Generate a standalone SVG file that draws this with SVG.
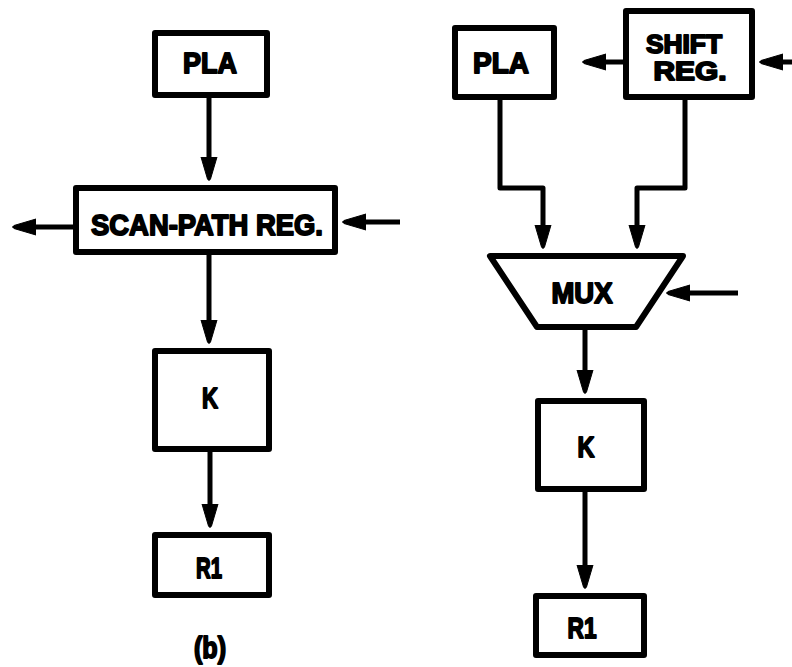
<svg xmlns="http://www.w3.org/2000/svg" width="792" height="667" viewBox="0 0 792 667">
<style>
.box{fill:#fff;stroke:#000;stroke-width:6;stroke-linejoin:round}
.lbl{font-family:"Liberation Sans","DejaVu Sans",sans-serif;font-weight:bold;font-size:29px;fill:#000;stroke:#000;stroke-width:1.8;stroke-linejoin:round;text-anchor:middle}
.sm{font-size:25px;stroke-width:1.8}
.conn{fill:none;stroke:#000;stroke-width:5;stroke-linejoin:round}
</style>
<defs>
<marker id="ah" markerUnits="userSpaceOnUse" markerWidth="28" markerHeight="20" viewBox="0 -10 28 20" refX="14" refY="0" orient="auto">
<path d="M0,-8 L22,-1.5 Q25,0 22,1.5 L0,8 Z" fill="#000" stroke="#000" stroke-width="1" stroke-linejoin="round"/>
</marker>
</defs>
<rect width="792" height="667" fill="#fff"/>
<g id="connectors">
<line class="conn" x1="209" y1="98" x2="209" y2="171" marker-end="url(#ah)"/>
<line class="conn" x1="209" y1="255" x2="209" y2="334" marker-end="url(#ah)"/>
<line class="conn" x1="210" y1="452" x2="210" y2="518" marker-end="url(#ah)"/>
<line class="conn" x1="73" y1="227" x2="22" y2="227" marker-end="url(#ah)"/>
<line class="conn" x1="400" y1="222" x2="352" y2="222" marker-end="url(#ah)"/>
<line class="conn" x1="623" y1="62" x2="592" y2="62" marker-end="url(#ah)"/>
<line class="conn" x1="792" y1="62" x2="769" y2="62" marker-end="url(#ah)"/>
<path class="conn" d="M500,100 V188 H543 V239" marker-end="url(#ah)"/>
<path class="conn" d="M685,100 V188 H637 V239" marker-end="url(#ah)"/>
<line class="conn" x1="738" y1="293" x2="676" y2="293" marker-end="url(#ah)"/>
<line class="conn" x1="585" y1="330" x2="585" y2="384" marker-end="url(#ah)"/>
<line class="conn" x1="585" y1="492" x2="585" y2="579" marker-end="url(#ah)"/>
</g>
<g id="pla-left"><rect class="box" x="155" y="33" width="112" height="62"/><text class="lbl" x="210" y="73" textLength="54" lengthAdjust="spacingAndGlyphs">PLA</text></g>
<g id="scan-path-reg"><rect class="box" x="76" y="188" width="259" height="64"/><text class="lbl" x="207" y="235" textLength="232" lengthAdjust="spacingAndGlyphs">SCAN-PATH REG.</text></g>
<g id="k-left"><rect class="box" x="155" y="351" width="114" height="98"/><text class="lbl" x="210" y="408" textLength="16" lengthAdjust="spacingAndGlyphs">K</text></g>
<g id="r1-left"><rect class="box" x="155" y="535" width="114" height="60"/><text class="lbl" x="209" y="578" textLength="26" lengthAdjust="spacingAndGlyphs">R1</text></g>
<g id="caption-b"><text class="lbl" x="210" y="658" textLength="32" lengthAdjust="spacingAndGlyphs">(b)</text></g>
<g id="pla-right"><rect class="box" x="455" y="28" width="99" height="69"/><text class="lbl" x="501" y="73" textLength="56" lengthAdjust="spacingAndGlyphs">PLA</text></g>
<g id="shift-reg"><rect class="box" x="626" y="11" width="126" height="86"/><text class="lbl sm" x="684" y="53" textLength="76" lengthAdjust="spacingAndGlyphs">SHIFT</text><text class="lbl sm" x="690" y="80" textLength="73" lengthAdjust="spacingAndGlyphs">REG.</text></g>
<g id="mux"><polygon class="box" points="490,256 683,256 636,327 537,327"/><text class="lbl" x="582" y="303" textLength="61" lengthAdjust="spacingAndGlyphs">MUX</text></g>
<g id="k-right"><rect class="box" x="538" y="401" width="106" height="88"/><text class="lbl" x="586" y="457" textLength="17" lengthAdjust="spacingAndGlyphs">K</text></g>
<g id="r1-right"><rect class="box" x="536" y="596" width="108" height="59"/><text class="lbl" x="582" y="638" textLength="29" lengthAdjust="spacingAndGlyphs">R1</text></g>
</svg>
